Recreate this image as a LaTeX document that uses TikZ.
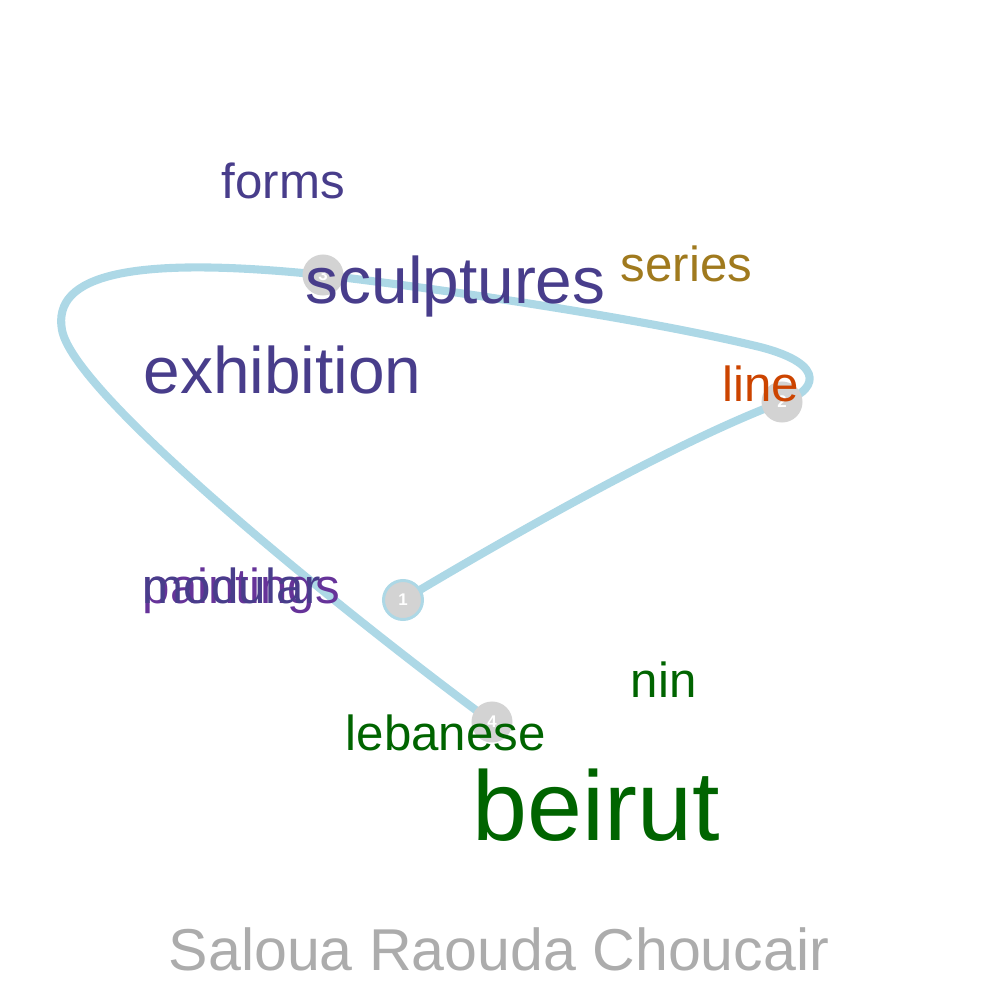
\documentclass[tikz,border=0pt]{standalone}
\usepackage{fontspec}
\setmainfont{Liberation Sans}
\usepackage{xcolor}
\usetikzlibrary{positioning,backgrounds}

\definecolor{slateblue}{HTML}{483D8B}
\definecolor{rebecca}{HTML}{663399}
\definecolor{ochre}{HTML}{A07A1E}
\definecolor{rust}{HTML}{CC4400}
\definecolor{leaf}{HTML}{006400}
\definecolor{trailblue}{HTML}{ADD8E6}
\definecolor{stopgray}{HTML}{D3D3D3}

\begin{document}
\begin{tikzpicture}[
  x=0.01cm, y=-0.01cm,
  stop/.style   = {circle, fill=stopgray, minimum size=4.1mm, inner sep=0pt,
                   text=white, font=\fontsize{4.8}{5}\selectfont\bfseries},
  first/.style  = {draw=trailblue, line width=0.85pt, minimum size=3.9mm},
  trail/.style  = {draw=trailblue, line width=2.3pt, line cap=round},
  word/.style   = {anchor=base west, inner sep=0pt, font=\fontsize{14}{14}\selectfont},
  big/.style    = {font=\fontsize{18.7}{19}\selectfont},
]
\useasboundingbox (0,0) rectangle (1000,1000);

% stops along the path
\node[stop, first] (n1) at (403,600) {1};
\node[stop] (n2) at (782,402) {2};
\node[stop] (n3) at (323,275) {3};
\node[stop] (n4) at (492,722) {4};
\coordinate (tip) at (760,347);
\coordinate (west) at (62,330);

\begin{scope}[on background layer]
\draw[trail] (n1.center) .. controls (520,530) and (680,440) .. (n2.center)
  .. controls (815,392) and (830,365) .. (tip)
  .. controls (650,320) and (450,290) .. (n3.center)
  .. controls (130,255) and (52,275) .. (west)
  .. controls (75,400) and (380,640) .. (n4.center);
\end{scope}

% words
\node[word, text=slateblue] (forms) at (221,198) {forms};
\node[word, big, text=slateblue] (sculptures) at (305,303) {sculptures};
\node[word, text=ochre] (series) at (620,281) {series};
\node[word, big, text=slateblue] (exhibition) at (143,393) {exhibition};
\node[word, text=rust] (line) at (722,401) {line};
\node[word, text=rebecca] (paintings) at (142,603) {paintings};
\node[word, text=slateblue] (modular) at (142,603) {modular};
\node[word, text=leaf] (nin) at (630,697) {nin};
\node[word, text=leaf] (lebanese) at (345,750) {lebanese};
\node[word, text=leaf, font=\fontsize{28.1}{28}\selectfont] (beirut) at (472,840) {beirut};

\node[anchor=base, inner sep=0pt, text=gray!65, font=\fontsize{16.8}{17}\selectfont]
  (title) at (499,970) {Saloua Raouda Choucair};
\end{tikzpicture}
\end{document}
